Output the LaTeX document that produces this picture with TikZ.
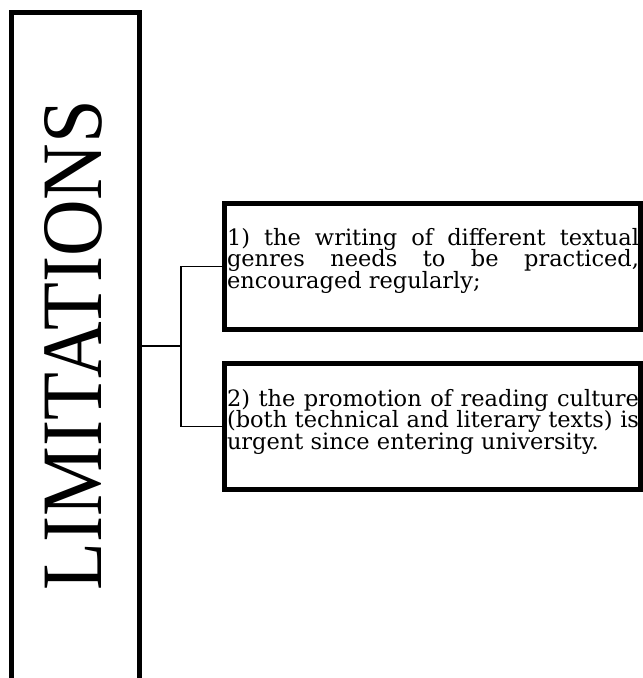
\documentclass[tikz,border=0pt]{standalone}
\usepackage{fontspec}
\setmainfont{Liberation Serif}
\newfontfamily\bodyfont{DejaVu Serif}
\usepackage{graphicx}
\newcommand{\threelines}[3]{\vtop{\bodyfont\fontsize{22.5}{21.2}\selectfont
  \baselineskip=21.2pt\lineskiplimit=-\maxdimen
  \hbox to 412pt{#1}\hbox to 412pt{#2}\hbox{#3}}}
\begin{document}
\begin{tikzpicture}[x=1pt,y=-1pt,
  framebox/.style={draw=black,line width=5pt,rectangle,inner sep=0pt},
  conn/.style={draw=black,line width=1.2pt},
  txtblock/.style={anchor=base west,inner sep=0pt,outer sep=0pt}]
\useasboundingbox (0,0) rectangle (643,678);
\clip (0,0) rectangle (643,678);
% left tall box (open at the bottom edge)
\node[framebox,minimum width=128pt,minimum height=688pt] (lt) at (75.5,356) {};
\node[rotate=90,inner sep=0pt] (title) at (73.5,345) {\resizebox{490pt}{57pt}{LIMITATIONS}};
% right boxes
\node[framebox,minimum width=416pt,minimum height=126pt] (b1) at (432.5,266.5) {};
\node[framebox,minimum width=416pt,minimum height=126pt] (b2) at (432.5,426.5) {};
% texts
\node[txtblock] (t1) at (227,245.7) {\threelines{1) the writing of different textual}{genres needs to be practiced,}{encouraged regularly;}};
\node[txtblock] (t2) at (227,406.7) {\threelines{2) the promotion of reading culture}{(both technical and literary texts) is}{urgent since entering university.}};
% connectors
\coordinate (j) at (181,346);
\draw[conn] (lt.east |- j) -- (j);
\draw[conn] (b1.west) -| (j) |- (b2.west);
\end{tikzpicture}
\end{document}
